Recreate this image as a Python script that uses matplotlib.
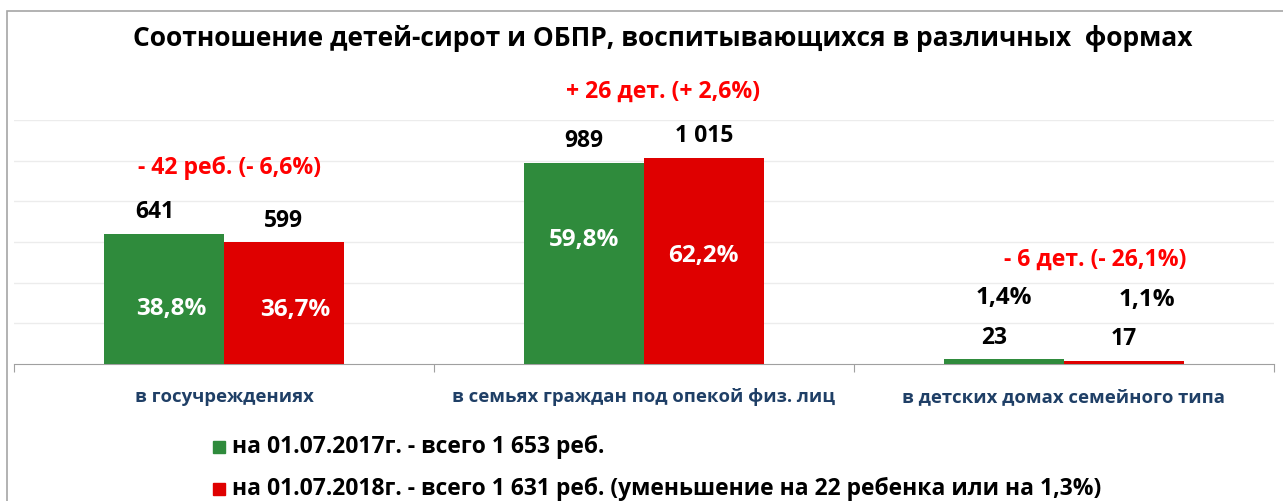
import matplotlib
matplotlib.use("Agg")
import matplotlib.pyplot as plt
import numpy as np
from matplotlib.patches import Rectangle

# --- DATA ---
categories = ["в госучреждениях", "в семьях граждан под опекой физ. лиц", "в детских домах семейного типа"]
values_2017 = [641, 989, 23]
values_2018 = [599, 1015, 17]
labels_2017 = ["641", "989", "23"]
labels_2018 = ["599", "1 015", "17"]
share_2017 = ["38,8%", "59,8%", "1,4%"]
share_2018 = ["36,7%", "62,2%", "1,1%"]
changes = ["- 42 реб. (- 6,6%)", "+ 26 дет. (+ 2,6%)", "- 6 дет. (- 26,1%)"]
legend_2017 = "на 01.07.2017г. - всего 1 653 реб."
legend_2018 = "на 01.07.2018г. - всего 1 631 реб. (уменьшение на 22 ребенка или на 1,3%)"
title = "Соотношение детей-сирот и ОБПР, воспитывающихся в различных  формах"

# --- STYLE ---
plt.rcParams["font.family"] = ["Open Sans", "DejaVu Sans"]
green = "#2f8b3c"
red = "#df0000"
ann_red = "#ff0000"
cat_blue = "#1f3f66"

W, H = 1283, 501
fig = plt.figure(figsize=(W / 100, H / 100), dpi=100)

# outer frame
fig.patches.append(Rectangle((7 / W, -0.1), 1.2, 1 - 11 / H + 0.1, transform=fig.transFigure,
                             fill=False, edgecolor="#a6a6a6", linewidth=1.2))

ax = fig.add_axes([14 / W, 1 - 364 / H, (1274 - 14) / W, (364 - 120) / H])
x = np.arange(len(categories))
bw = 0.285
ax.bar(x - bw / 2, values_2017, bw, color=green, zorder=3)
ax.bar(x + bw / 2, values_2018, bw, color=red, zorder=3)

ax.set_xlim(-0.5, 2.5)
ax.set_ylim(0, 1200)
ax.set_yticks(np.arange(200, 1201, 200))
ax.yaxis.grid(True, color="#ececec", linewidth=1)
ax.tick_params(axis="y", left=False, labelleft=False)
for s in ["top", "right", "left"]:
    ax.spines[s].set_visible(False)
ax.spines["bottom"].set_color("#a0a0a0")
ax.set_xticks([-0.5, 0.5, 1.5, 2.5])
ax.set_xticklabels([])
ax.tick_params(axis="x", direction="out", length=6, color="#a0a0a0")

for i, c in enumerate(categories):
    ax.text(i, -0.135, c, transform=ax.get_xaxis_transform(), ha="center", va="center",
            fontsize=13.3, fontweight="bold", color=cat_blue)

# value labels above bars (offsets in points)
dx_2017 = [-6.5, 0, -7]
dx_2018 = [0, 0, 0]
for i in range(len(categories)):
    ax.annotate(labels_2017[i], (x[i] - bw / 2, values_2017[i]), xytext=(dx_2017[i], 15.5),
                textcoords="offset points", ha="center", va="center", fontsize=16.5,
                fontweight="bold", color="black")
    ax.annotate(labels_2018[i], (x[i] + bw / 2, values_2018[i]), xytext=(dx_2018[i], 15.5),
                textcoords="offset points", ha="center", va="center", fontsize=16.5,
                fontweight="bold", color="black")

# share labels (manually placed like in the source)
share_y_2017 = [270, 610, 325]
share_y_2018 = [266, 531, 315]
share_dx_2017 = [0.0175, 0, 0]
share_dx_2018 = [0.026, 0, 0.056]
for i in range(len(categories)):
    inside = values_2017[i] > 100
    ax.text(x[i] - bw / 2 + share_dx_2017[i], share_y_2017[i], share_2017[i], ha="center", va="center",
            fontsize=17.5, fontweight="bold", color="white" if inside else "black", zorder=4)
    ax.text(x[i] + bw / 2 + share_dx_2018[i], share_y_2018[i], share_2018[i], ha="center", va="center",
            fontsize=17.5, fontweight="bold", color="white" if inside else "black", zorder=4)

# change annotations
change_dx = [0.013, 0.045, 0.075]
change_y = [964, 1338, 511]
for i, t in enumerate(changes):
    ax.text(x[i] + change_dx[i], change_y[i], t, ha="center", va="center",
            fontsize=16.6, fontweight="bold", color=ann_red, clip_on=False)

fig.text(663 / W, 1 - 38 / H, title, ha="center", va="center", fontsize=19, fontweight="bold")

# legend
for yy, col, txt in [(447, green, legend_2017), (489, red, legend_2018)]:
    fig.patches.append(Rectangle((213 / W, 1 - (yy + 6) / H), 12 / W, 12 / H, transform=fig.transFigure,
                                 color=col))
    fig.text(232 / W, 1 - yy / H, txt, ha="left", va="center", fontsize=16.5, fontweight="bold")

fig.savefig("out.png", dpi=100)
